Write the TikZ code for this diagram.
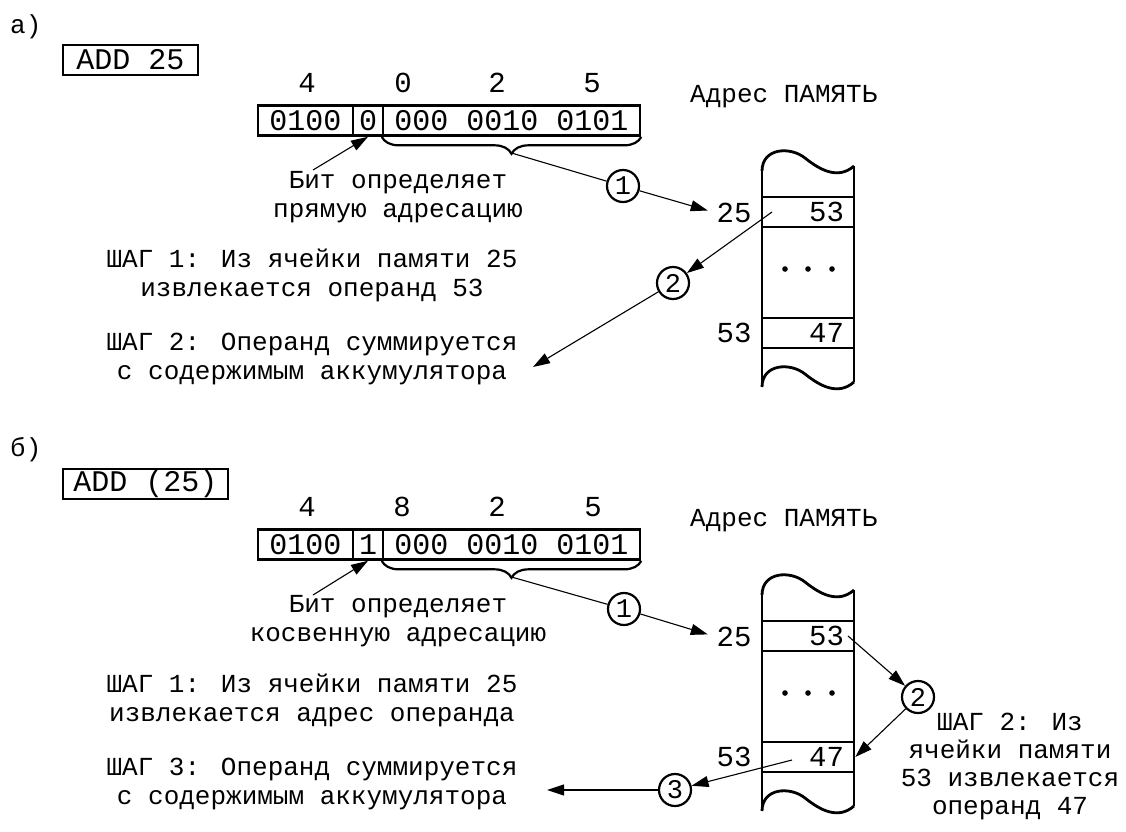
\documentclass[tikz,border=0pt]{standalone}
\usepackage{fontspec}
\setmainfont{Liberation Mono}
\usetikzlibrary{arrows.meta,decorations.pathreplacing}

\newcommand\txtsize{\fontsize{26}{29}\selectfont}
\newcommand\lblsize{\fontsize{29}{32}\selectfont}
\newcommand\regsize{\fontsize{30}{33}\selectfont}

\tikzset{
  frame/.style={draw, line width=2.6pt, inner sep=0pt, minimum height=30pt, font=\regsize},
  hexlabel/.style={font=\lblsize, inner sep=0pt},
  note/.style={font=\txtsize, align=center, inner sep=0pt},
  numcircle/.style={draw, circle, line width=2.2pt, minimum size=32pt, inner sep=0pt,
    font=\fontsize{27}{27}\selectfont},
  link/.style={line width=1.1pt},
  arrowlink/.style={link, -{Triangle[length=17pt,width=11pt]}},
  cell/.style={draw, line width=2.6pt, minimum width=92pt, minimum height=30pt,
    text width=72pt, align=right, inner xsep=10pt, inner ysep=0pt, font=\lblsize},
  memline/.style={line width=2.8pt},
  bracestyle/.style={line width=2.2pt, decorate,
    decoration={brace, amplitude=17pt, aspect=0.5}},
}

% memory column: wavy top and bottom edges, two side lines, dots between cells
\newcommand\memcolumn{%
  \draw[memline] (762,171) .. controls (762,148) and (790,146) .. (805,158)
                 .. controls (820,170) and (838,180) .. (854,166);
  \draw[memline] (762,387) .. controls (762,364) and (790,362) .. (805,374)
                 .. controls (820,386) and (838,396) .. (854,382);
  \draw[memline] (762,171) -- (762,387);
  \draw[memline] (854,166) -- (854,382);
  \fill (785,269) circle (2.8pt) (808,269) circle (2.8pt) (832,269) circle (2.8pt);
}

\begin{document}
\begin{tikzpicture}[x=1pt, y=-1pt]
\useasboundingbox (0,0) rectangle (1126,831);

% ---------------- a) direct addressing ----------------
\node[note, anchor=west] (a-title) at (10,27) {а)};
\node[frame, minimum width=135pt] (a-instr) at (130.5,60) {ADD 25};

\node[hexlabel] (a-h1) at (307,83) {4};
\node[hexlabel] (a-h2) at (403,83) {0};
\node[hexlabel] (a-h3) at (497,83) {2};
\node[hexlabel] (a-h4) at (592,83) {5};

\node[frame, minimum width=95pt]  (a-op)   at (305.5,120.5) {0100};
\node[frame, minimum width=30pt]  (a-bit)  at (368,120.5) {0};
\node[frame, minimum width=257pt] (a-addr) at (511.5,120.5) {000 0010 0101};
\draw[bracestyle] (a-addr.south east) -- (a-addr.south west);
\coordinate (a-tip) at (511.5,153);

\node[note] (a-bitnote) at (398,197) {Бит определяет\\прямую адресацию};
\coordinate (a-bitfrom) at (313,170);
\draw[arrowlink] (a-bitfrom) -- (a-bit.south);

\node[note] (a-step1) at (312,275) {ШАГ 1: Из ячейки памяти 25\\извлекается операнд 53};
\node[note] (a-step2) at (312,359) {ШАГ 2: Операнд суммируется\\с содержимым аккумулятора};

\node[note, anchor=west] (a-memtitle) at (690,97) {Адрес ПАМЯТЬ};
\memcolumn
\node[cell] (a-c25) at (808,212) {53};
\node[cell] (a-c53) at (808,333) {47};
\node[hexlabel] (a-l25) at (734,213) {25};
\node[hexlabel] (a-l53) at (734,333) {53};

\node[numcircle] (a-n1) at (623,186) {1};
\draw[link] (a-tip) -- (a-n1);
\draw[arrowlink, shorten >=9pt] (a-n1) -- (a-l25.west);

\node[numcircle] (a-n2) at (673,283) {2};
\coordinate (a-from2) at (772,212);
\coordinate (a-to2) at (533,367);
\draw[arrowlink] (a-from2) -- (a-n2);
\draw[arrowlink] (a-n2) -- (a-to2);

% ---------------- б) indirect addressing ----------------
\begin{scope}[shift={(0,424)}]
\node[note, anchor=west] (b-title) at (10,26) {б)};
\node[frame, minimum width=165pt] (b-instr) at (145.5,60) {ADD (25)};

\node[hexlabel] (b-h1) at (307,83) {4};
\node[hexlabel] (b-h2) at (402,83) {8};
\node[hexlabel] (b-h3) at (497,83) {2};
\node[hexlabel] (b-h4) at (593,83) {5};

\node[frame, minimum width=95pt]  (b-op)   at (305.5,120.5) {0100};
\node[frame, minimum width=30pt]  (b-bit)  at (368,120.5) {1};
\node[frame, minimum width=257pt] (b-addr) at (511.5,120.5) {000 0010 0101};
\draw[bracestyle] (b-addr.south east) -- (b-addr.south west);
\coordinate (b-tip) at (511.5,153);

\node[note] (b-bitnote) at (398,197) {Бит определяет\\косвенную адресацию};
\coordinate (b-bitfrom) at (313,171);
\draw[arrowlink] (b-bitfrom) -- (b-bit.south);

\node[note] (b-step1) at (312,276) {ШАГ 1: Из ячейки памяти 25\\извлекается адрес операнда};
\node[note] (b-step3) at (312,360) {ШАГ 3: Операнд суммируется\\с содержимым аккумулятора};

\node[note, anchor=west] (b-memtitle) at (690,97) {Адрес ПАМЯТЬ};
\memcolumn
\node[cell] (b-c25) at (808,212) {53};
\node[cell] (b-c53) at (808,333) {47};
\node[hexlabel] (b-l25) at (734,213) {25};
\node[hexlabel] (b-l53) at (734,333) {53};

\node[numcircle] (b-n1) at (624,185) {1};
\draw[link] (b-tip) -- (b-n1);
\draw[arrowlink, shorten >=9pt] (b-n1) -- (b-l25.west);

\node[numcircle] (b-n2) at (918,273) {2};
\coordinate (b-from2) at (848,212);
\draw[arrowlink] (b-from2) -- (b-n2);
\draw[arrowlink] (b-n2) -- (b-c53.east);

\node[note, font=\fontsize{26}{28}\selectfont] (b-step2) at (1010,342)
  {ШАГ 2: Из\\ячейки памяти\\53 извлекается\\операнд 47};

\node[numcircle] (b-n3) at (675,366) {3};
\coordinate (b-from3) at (792,336);
\coordinate (b-to3) at (547,366);
\draw[arrowlink] (b-from3) -- (b-n3);
\draw[arrowlink] (b-n3) -- (b-to3);
\end{scope}
\end{tikzpicture}
\end{document}
